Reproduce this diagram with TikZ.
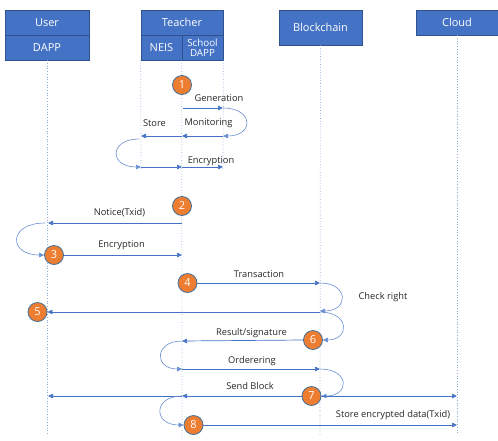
\documentclass[tikz,border=0pt]{standalone}
\usepackage{fontspec}
\setmainfont{Open Sans}
\usetikzlibrary{arrows.meta}
\definecolor{boxblue}{HTML}{4472C4}
\definecolor{boxborder}{HTML}{2F528F}
\definecolor{lineblue}{HTML}{4472C4}
\definecolor{lifeblue}{HTML}{8FAADC}
\definecolor{numorange}{HTML}{ED7D31}
\definecolor{numborder}{HTML}{41719C}
\tikzset{
  head/.style={rectangle, fill=boxblue, draw=boxborder, line width=0.6pt, text=white, inner sep=0pt, font=\fontsize{11}{12}\selectfont},
  life/.style={draw=lifeblue, dotted, line width=0.7pt},
  msg/.style={draw=lineblue, line width=0.7pt, -{Triangle[length=5pt,width=4.5pt]}},
  loopc/.style={draw=lineblue!80, line width=0.6pt, -{Triangle[length=5pt,width=4.5pt]}},
  num/.style={circle, fill=numorange, draw=numborder, line width=0.8pt, minimum size=19pt, inner sep=0pt, text=white, font=\fontsize{11}{12}\selectfont},
  lbl/.style={inner sep=0pt, font=\fontsize{9.3}{10}\selectfont, text=black!85}
}
\begin{document}
\begin{tikzpicture}[x=1pt,y=-1pt]
\useasboundingbox (0,0) rectangle (498,440);
% headers
\node[head, minimum width=84pt, minimum height=25pt] (userT) at (47,22.5) {User};
\node[head, minimum width=84pt, minimum height=25pt] (userD) at (47,47.5) {DAPP};
\node[head, minimum width=82pt, minimum height=25pt] (teachT) at (182,22.5) {Teacher};
\node[head, minimum width=41pt, minimum height=25pt] (neis) at (161.5,47.5) {NEIS};
\node[head, minimum width=41pt, minimum height=25pt, align=center, font=\fontsize{9.8}{10}\selectfont] (school) at (202.5,47.5) {School\\DAPP};
\node[head, minimum width=83pt, minimum height=35pt] (block) at (320.5,27.5) {Blockchain};
\node[head, minimum width=82pt, minimum height=25pt] (cloud) at (457,22.5) {Cloud};
% lifelines
\coordinate (uEnd) at (47,435);
\coordinate (nEnd) at (141,170);
\coordinate (sEnd) at (223,170);
\coordinate (tEnd) at (182,440);
\coordinate (bEnd) at (320,435);
\coordinate (cEnd) at (457,433);
\draw[life] (userD.south) -- (uEnd);
\draw[life] (neis.south west) -- (nEnd);
\draw[life] (school.south east) -- (sEnd);
\draw[life] (school.south west) -- (tEnd);
\draw[life] (block.south) -- (bEnd);
\draw[life] (cloud.south) -- (cEnd);
% numbers
\node[num] (n1) at (182,85) {1};
\node[num] (n2) at (182,206) {2};
\node[num] (n3) at (54,255) {3};
\node[num] (n4) at (187.5,283) {4};
\node[num] (n5) at (37.5,312) {5};
\node[num] (n6) at (313,340) {6};
\node[num] (n7) at (311.5,396) {7};
\node[num] (n8) at (193.5,425) {8};
% coordinates
\coordinate (t108) at (183,108);
\coordinate (s108) at (223,108);
\coordinate (s136) at (223,136);
\coordinate (t136) at (182,136);
\coordinate (n136) at (141,136);
\coordinate (n139) at (139,139);
\coordinate (n167) at (141,167);
\coordinate (t167) at (182,167);
\coordinate (s167) at (223,167);
\coordinate (t223) at (182,223);
\coordinate (u223) at (48,223);
\coordinate (u223b) at (45,223);
\coordinate (t255) at (182,255);
\coordinate (b283) at (320,283);
\coordinate (b311) at (320,311);
\coordinate (b312) at (320,312);
\coordinate (t341) at (182,341);
\coordinate (t369) at (182,369);
\coordinate (b369) at (320,369);
\coordinate (t396) at (182,396);
\coordinate (u396) at (48,396);
\coordinate (c396) at (457,396);
\coordinate (c425) at (457,425);
% messages
\draw[msg] (t108) -- (s108);
\draw[loopc] (s108) .. controls (254,108) and (254,136) .. (s136);
\draw[msg] (s136) -- (t136);
\draw[msg] (t136) -- (n136);
\draw[loopc] (n139) .. controls (109,139) and (109,167) .. (n167);
\draw[msg] (n167) -- (t167);
\draw[msg] (t167) -- (s167);
\draw[msg] (t223) -- (u223);
\draw[loopc] (u223b) .. controls (8,223) and (8,255) .. (n3.west);
\draw[msg] (n3.east) -- (t255);
\draw[msg] (n4.east) -- (b283);
\draw[loopc] (b283) .. controls (349,283) and (349,311) .. (b311);
\draw[msg] (b312) -- (n5.east);
\draw[loopc] (b312) .. controls (350,312) and (350,340) .. (n6.east);
\draw[msg] (n6.west) -- (t341);
\draw[loopc] (t341) .. controls (154,341) and (154,369) .. (t369);
\draw[msg] (t369) -- (b369);
\draw[loopc] (b369) .. controls (350,369) and (350,396) .. (n7.east);
\draw[msg] (n7.west) -- (t396);
\draw[msg] (t396) -- (u396);
\draw[msg] (n7.east) -- (c396);
\draw[loopc] (t396) .. controls (153,396) and (153,425) .. (n8.west);
\draw[msg] (n8.east) -- (c425);
% labels
\node[lbl] (lGen) at (219,98) {Generation};
\node[lbl] (lMon) at (208.5,123) {Monitoring};
\node[lbl] (lSto) at (154.5,123) {Store};
\node[lbl] (lEnc1) at (211,161) {Encryption};
\node[lbl] (lNot) at (119.5,213) {Notice(Txid)};
\node[lbl] (lEnc2) at (121.5,245) {Encryption};
\node[lbl] (lTra) at (259,274) {Transaction};
\node[lbl] (lChk) at (383,297) {Check right};
\node[lbl] (lRes) at (251.5,333) {Result/signature};
\node[lbl] (lOrd) at (252,361) {Orderering};
\node[lbl] (lSend) at (250,386) {Send Block};
\node[lbl] (lStore) at (393,415) {Store encrypted data(Txid)};
\end{tikzpicture}
\end{document}
